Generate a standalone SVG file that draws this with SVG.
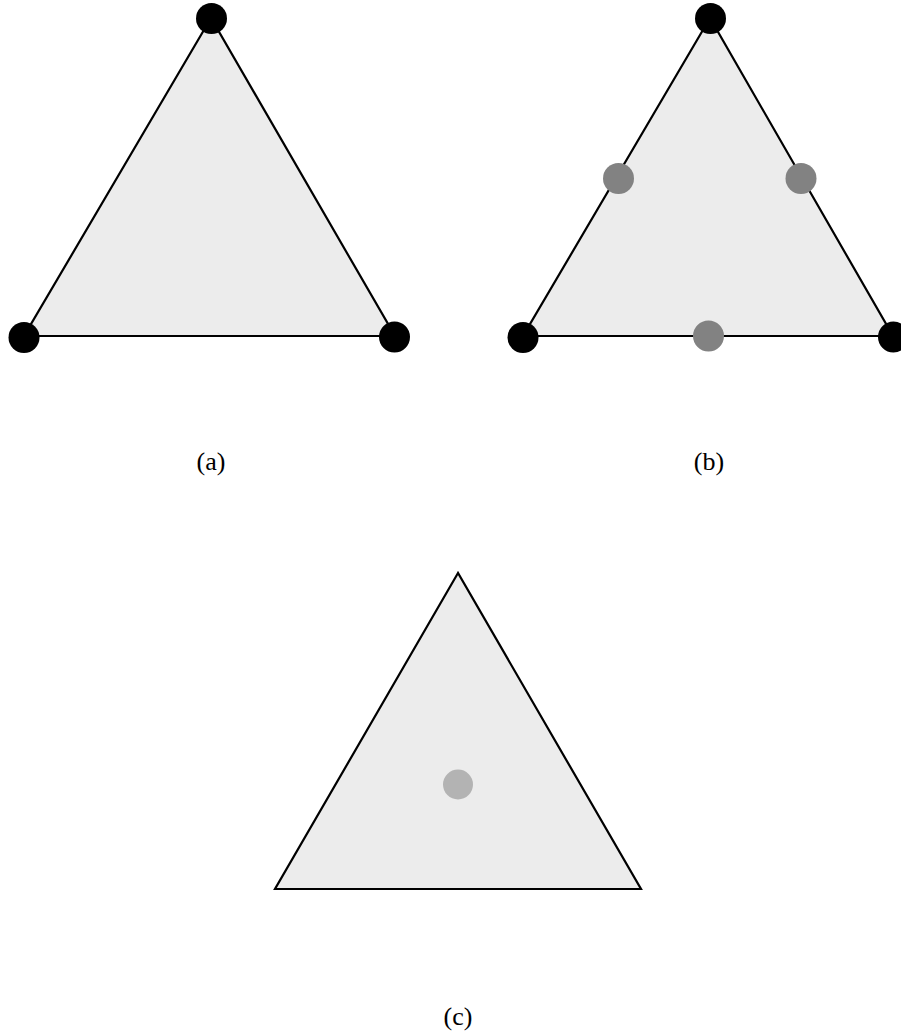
<svg xmlns="http://www.w3.org/2000/svg" width="901" height="1032" viewBox="0 0 901 1032">
<style>
.tri{fill:#ececec;stroke:#000;stroke-width:2.2;stroke-linejoin:miter}
.v{fill:#000}
.e{fill:#828282}
.f{fill:#b3b3b3}
.lbl{font-family:"Liberation Serif","DejaVu Serif",serif;font-size:26px;fill:#000;text-anchor:middle}
</style>
<rect width="901" height="1032" fill="#fff"/>
<g id="triangle-a">
<polygon class="tri" points="211,18 24,336 395,336"/>
<circle class="v" cx="211.5" cy="18.5" r="15.5"/>
<circle class="v" cx="24" cy="337.5" r="15.5"/>
<circle class="v" cx="394.5" cy="337" r="15.5"/>
<text class="lbl" x="211" y="470">(a)</text>
</g>
<g id="triangle-b">
<polygon class="tri" points="710,18 523,336 893,336"/>
<circle class="v" cx="710.5" cy="18.5" r="15.5"/>
<circle class="v" cx="523" cy="337.5" r="15.5"/>
<circle class="v" cx="893.5" cy="337" r="15.5"/>
<circle class="e" cx="618.5" cy="178.5" r="15.5"/>
<circle class="e" cx="801" cy="178.5" r="15.5"/>
<circle class="e" cx="708.5" cy="336" r="15.5"/>
<text class="lbl" x="709" y="470">(b)</text>
</g>
<g id="triangle-c">
<polygon class="tri" points="458,573 275,889 641,889"/>
<circle class="f" cx="458" cy="784.5" r="15"/>
<text class="lbl" x="458" y="1025">(c)</text>
</g>
<g id="connectors"/>
</svg>
